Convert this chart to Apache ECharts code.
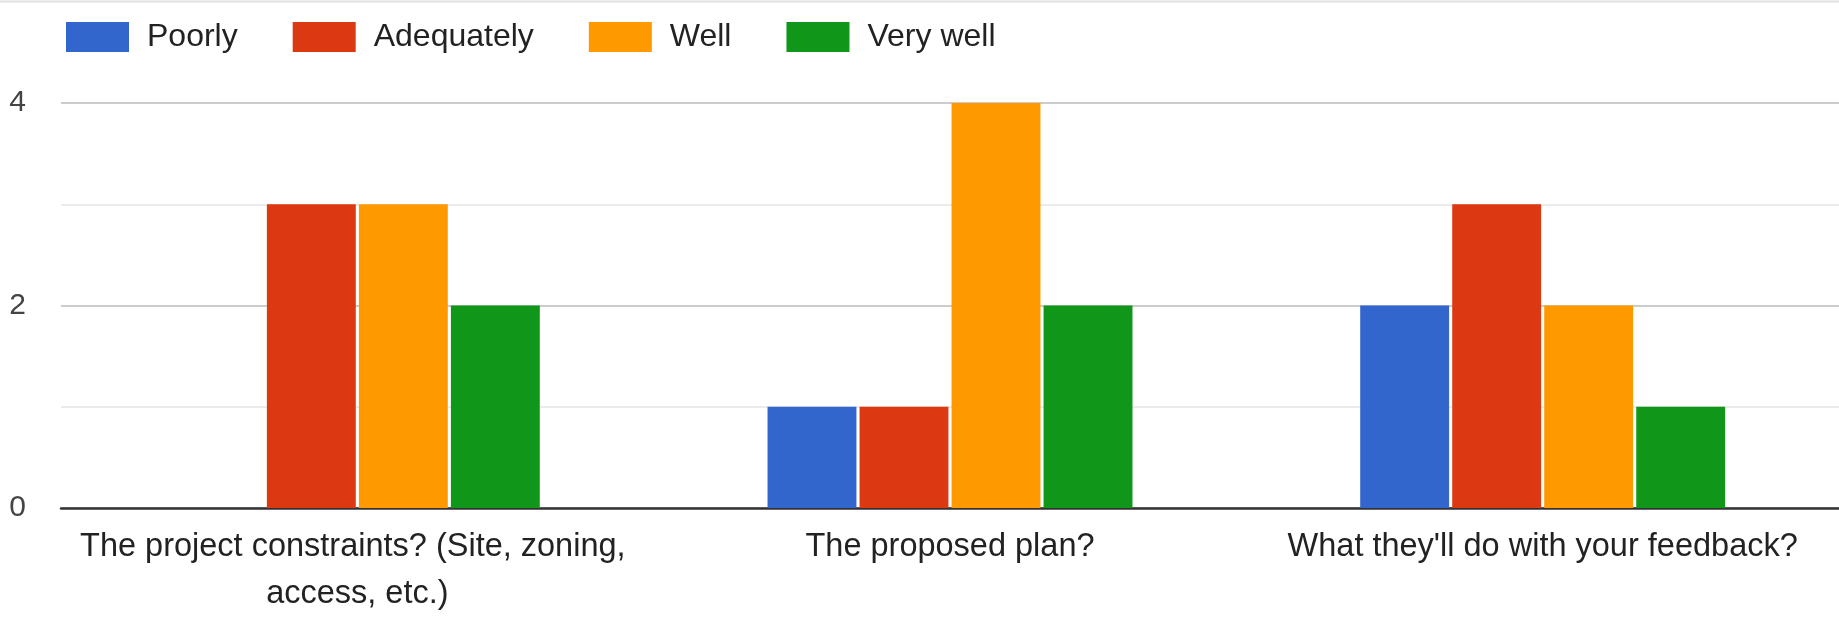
<!DOCTYPE html>
<html>
<head>
<meta charset="utf-8">
<script src="https://cdn.jsdelivr.net/npm/echarts@6/dist/echarts.min.js"></script>
<style>
html,body{margin:0;padding:0;background:#fff;}
#chart{width:1839px;height:618px;}
</style>
</head>
<body>
<div id="chart"></div>
<script>
const categories = ["The project constraints? (Site, zoning, access, etc.)", "The proposed plan?", "What they'll do with your feedback?"];
const seriesNames = ["Poorly", "Adequately", "Well", "Very well"];
const poorly = [0, 1, 2];
const adequately = [3, 1, 3];
const well = [3, 4, 2];
const veryWell = [2, 2, 1];
const yTickLabels = ["0", "2", "4"];

const colors = ["#3366cc", "#dc3912", "#ff9900", "#109618"];
const values = [poorly, adequately, well, veryWell];
const font = "'Liberation Sans', Arial, sans-serif";

const chart = echarts.init(document.getElementById('chart'), null, {renderer: 'canvas'});
chart.setOption({
  animation: false,
  color: colors,
  textStyle: {fontFamily: font},
  graphic: [{
    type: 'line',
    shape: {x1: 0, y1: 1.5, x2: 1839, y2: 1.5},
    style: {stroke: '#e0e0e0', lineWidth: 2}
  }],
  legend: {
    left: 61,
    top: 16,
    itemWidth: 63,
    itemHeight: 30,
    itemGap: 55,
    icon: 'rect',
    textStyle: {fontSize: 32, color: '#222', fontFamily: font, padding: [0, 0, 0, 13]},
    data: seriesNames
  },
  grid: {left: 61, right: 0, top: 103, bottom: 103, containLabel: false},
  xAxis: {
    type: 'category',
    data: categories,
    axisLine: {show: true, lineStyle: {color: '#333', width: 2.5}},
    axisTick: {show: false},
    axisLabel: {
      interval: 0,
      margin: 16,
      fontSize: 32.5,
      lineHeight: 47,
      color: '#222',
      fontFamily: font,
      width: 585,
      overflow: 'break'
    }
  },
  yAxis: {
    type: 'value',
    min: 0,
    max: 4,
    interval: 1,
    axisLine: {show: false},
    axisTick: {show: false},
    axisLabel: {
      margin: 35,
      fontSize: 30,
      color: '#444',
      fontFamily: font,
      formatter: function (v) { return yTickLabels.indexOf(String(v)) >= 0 ? String(v) : ''; }
    },
    splitLine: {lineStyle: {color: ['#cccccc', '#ebebeb'], width: 2}}
  },
  series: seriesNames.map(function (name, i) {
    return {
      name: name,
      type: 'bar',
      data: values[i],
      barWidth: '15%',
      barGap: '3.5%',
      itemStyle: {color: colors[i]}
    };
  })
});
</script>
</body>
</html>
